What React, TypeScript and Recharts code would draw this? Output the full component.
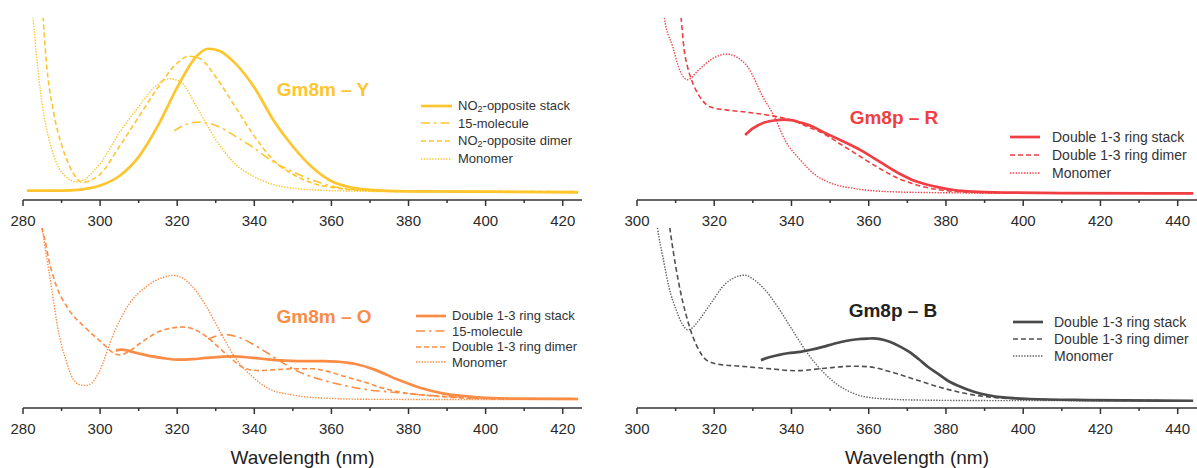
import React from 'react';
import { LineChart, Line, XAxis, YAxis } from 'recharts';

type Pt = [number, number];

const FONT = '"Liberation Sans", Arial, Helvetica, sans-serif';

// ---------- tick values ----------
const ticksLeft = [280, 290, 300, 310, 320, 330, 340, 350, 360, 370, 380, 390, 400, 410, 420];
const ticksRight = [300, 310, 320, 330, 340, 350, 360, 370, 380, 390, 400, 410, 420, 430, 440];

// ---------- Gm8m – Y ----------
const yStack: Pt[] = [[281, 0.006], [290, 0.006], [295, 0.012], [300, 0.035], [305, 0.09], [310, 0.2], [315, 0.38], [320, 0.6], [325, 0.78], [328, 0.823], [331, 0.81], [335, 0.74], [340, 0.6], [345, 0.41], [350, 0.26], [355, 0.14], [360, 0.06], [365, 0.025], [370, 0.01], [380, 0.002], [400, 0], [424, -0.004]];
const y15mol: Pt[] = [[319.2, 0.35], [322, 0.385], [325, 0.4], [328, 0.395], [331, 0.372], [335, 0.32], [340, 0.25], [345, 0.17], [350, 0.115], [355, 0.067], [360, 0.033], [365, 0.015], [370, 0.006], [380, 0.002], [400, 0], [424, 0]];
const yDimer: Pt[] = [[284.8, 1.1], [285.2, 1], [286, 0.76], [288, 0.45], [290, 0.27], [292, 0.15], [294, 0.075], [295.5, 0.052], [297, 0.06], [300, 0.1], [305, 0.26], [310, 0.43], [315, 0.6], [320, 0.74], [323, 0.78], [326, 0.765], [330, 0.66], [335, 0.49], [340, 0.32], [345, 0.18], [350, 0.1], [355, 0.05], [360, 0.025], [370, 0.006], [380, 0.001], [424, 0]];
const yMono: Pt[] = [[282.2, 1.1], [282.6, 1], [283.6, 0.76], [285, 0.5], [287, 0.28], [289, 0.15], [291, 0.09], [293.5, 0.058], [296, 0.07], [298, 0.11], [300, 0.16], [305, 0.34], [310, 0.49], [314, 0.6], [318, 0.65], [321, 0.63], [325, 0.49], [330, 0.3], [335, 0.16], [340, 0.085], [345, 0.04], [350, 0.02], [360, 0.006], [380, 0], [424, 0]];

// ---------- Gm8p – R ----------
const rStack: Pt[] = [[328, 0.333], [330, 0.37], [333, 0.404], [336, 0.417], [338, 0.42], [340, 0.418], [342.3, 0.404], [345, 0.385], [348, 0.352], [353, 0.3], [358, 0.245], [363, 0.178], [368, 0.112], [372.4, 0.067], [377.3, 0.038], [382, 0.019], [387, 0.01], [397, 0.004], [410, 0.001], [444, 0]];
const rDimer: Pt[] = [[311.1, 1.05], [311.4, 1], [312.2, 0.82], [313.1, 0.72], [314.1, 0.648], [316, 0.56], [318, 0.505], [320, 0.486], [323, 0.476], [329, 0.461], [335.5, 0.44], [340.3, 0.415], [344.2, 0.38], [348.1, 0.343], [353, 0.276], [357.8, 0.21], [362.7, 0.143], [367.6, 0.086], [372.4, 0.048], [377.3, 0.023], [382.1, 0.011], [387, 0.006], [397, 0.002], [444, 0]];
const rMono: Pt[] = [[306.8, 1.05], [307.1, 1], [309.2, 0.84], [311.2, 0.695], [313.1, 0.648], [316, 0.705], [319, 0.76], [323.1, 0.794], [326, 0.775], [328.7, 0.72], [332.6, 0.55], [335.5, 0.44], [338.4, 0.3], [342.3, 0.19], [346.2, 0.105], [350, 0.06], [355.9, 0.029], [363.7, 0.011], [377, 0.004], [400, 0.001], [444, 0]];

// ---------- Gm8m – O ----------
const oStack: Pt[] = [[304.1, 0.287], [305.6, 0.291], [309, 0.275], [313.5, 0.252], [317, 0.24], [320.5, 0.233], [324, 0.236], [327.5, 0.243], [334.4, 0.252], [339, 0.245], [343.4, 0.235], [348, 0.228], [353.3, 0.224], [358, 0.224], [361.3, 0.222], [364, 0.216], [366.3, 0.208], [371.2, 0.175], [377.2, 0.117], [383.2, 0.068], [389.2, 0.035], [398.1, 0.014], [408, 0.006], [424, 0.004]];
const o15mol: Pt[] = [[328, 0.353], [330, 0.37], [332.4, 0.379], [335, 0.37], [337.4, 0.35], [340, 0.318], [343.4, 0.272], [347.4, 0.214], [351.3, 0.165], [357.3, 0.117], [363.3, 0.083], [369.3, 0.058], [375.2, 0.045], [383.2, 0.029], [393.1, 0.014], [403.1, 0.006], [424, 0.003]];
const oDimer: Pt[] = [[284.6, 1.05], [284.9, 1], [285.7, 0.93], [286.7, 0.816], [288.7, 0.66], [291.6, 0.534], [296.6, 0.41], [300.6, 0.33], [303.6, 0.27], [305, 0.26], [306.6, 0.27], [310.5, 0.33], [315.5, 0.398], [321.5, 0.423], [325.5, 0.398], [327.5, 0.369], [330.5, 0.31], [333.4, 0.252], [337.4, 0.184], [341.4, 0.169], [345.4, 0.175], [351.3, 0.18], [355, 0.18], [359, 0.165], [363.3, 0.136], [369.3, 0.097], [373.2, 0.068], [379.2, 0.039], [388.2, 0.019], [398, 0.006], [424, 0.002]];
const oMono: Pt[] = [[284.7, 1.05], [285, 1], [286, 0.85], [287.5, 0.64], [289, 0.42], [291, 0.24], [293, 0.12], [295, 0.085], [296.4, 0.083], [298, 0.1], [299.6, 0.155], [303.6, 0.39], [307.6, 0.56], [311.5, 0.65], [315.5, 0.705], [319, 0.724], [322, 0.7], [325, 0.63], [327.5, 0.545], [331.4, 0.385], [335.4, 0.233], [339.4, 0.136], [343.4, 0.068], [349.4, 0.029], [357.3, 0.01], [370, 0.002], [424, 0]];

// ---------- Gm8p – B ----------
const bStack: Pt[] = [[332.1, 0.235], [334, 0.25], [336.5, 0.264], [339, 0.275], [342.3, 0.283], [345, 0.295], [348.1, 0.312], [351, 0.33], [354, 0.346], [357, 0.356], [359.8, 0.36], [361.2, 0.361], [363, 0.357], [365.6, 0.34], [368, 0.315], [370.5, 0.283], [373, 0.24], [375.3, 0.197], [378, 0.155], [380.2, 0.12], [383, 0.088], [387, 0.054], [391, 0.032], [394.8, 0.019], [401.6, 0.01], [416.2, 0.004], [444, 0]];
const bDimer: Pt[] = [[308.2, 1.05], [308.5, 1], [310.7, 0.694], [313.1, 0.465], [315.6, 0.312], [318, 0.235], [320.9, 0.212], [326.7, 0.2], [333.5, 0.187], [341.3, 0.174], [348.1, 0.187], [355.9, 0.2], [359.8, 0.197], [365.6, 0.168], [372.4, 0.12], [379.2, 0.073], [387, 0.034], [394.8, 0.015], [406.5, 0.006], [420, 0.002], [444, 0]];
const bMono: Pt[] = [[305, 1.05], [305.3, 1], [306.8, 0.82], [308.3, 0.656], [310.2, 0.522], [311.7, 0.445], [313.1, 0.411], [314.5, 0.425], [316, 0.465], [319, 0.56], [322.8, 0.675], [325.5, 0.715], [327.9, 0.727], [330, 0.705], [332.6, 0.656], [336.5, 0.541], [340.3, 0.407], [344.2, 0.273], [348.1, 0.168], [352, 0.092], [355.9, 0.044], [361.7, 0.015], [372.4, 0.004], [390, 0.001], [444, 0]];

// ---------- labels ----------
const titles = ['Gm8m \u2013 Y', 'Gm8p \u2013 R', 'Gm8m \u2013 O', 'Gm8p \u2013 B'];
const xAxisTitle = 'Wavelength (nm)';
const legendY = ['NO2-opposite stack', '15-molecule', 'NO2-opposite dimer', 'Monomer'];
const legendR = ['Double 1-3 ring stack', 'Double 1-3 ring dimer', 'Monomer'];
const legendO = ['Double 1-3 ring stack', '15-molecule', 'Double 1-3 ring dimer', 'Monomer'];
const legendB = ['Double 1-3 ring stack', 'Double 1-3 ring dimer', 'Monomer'];

const COLOR_Y = '#FFC52E';
const COLOR_R = '#F03E42';
const COLOR_O = '#FB8C45';
const COLOR_B = '#4A4A4A';

type Kind = 'solid' | 'dashdot' | 'dash' | 'dot';
const LINE_STYLE: Record<Kind, { width: number; dash?: string }> = {
  solid: { width: 2.7 },
  dashdot: { width: 1.6, dash: '9 4 2.5 4' },
  dash: { width: 1.6, dash: '5 3' },
  dot: { width: 1.4, dash: '1.4 1.4' },
};

type Series = { label: string; data: Pt[]; kind: Kind; color: string };

const seriesY: Series[] = [
  { label: legendY[0], data: yStack, kind: 'solid', color: COLOR_Y },
  { label: legendY[1], data: y15mol, kind: 'dashdot', color: COLOR_Y },
  { label: legendY[2], data: yDimer, kind: 'dash', color: COLOR_Y },
  { label: legendY[3], data: yMono, kind: 'dot', color: COLOR_Y },
];
const seriesR: Series[] = [
  { label: legendR[0], data: rStack, kind: 'solid', color: COLOR_R },
  { label: legendR[1], data: rDimer, kind: 'dash', color: COLOR_R },
  { label: legendR[2], data: rMono, kind: 'dot', color: COLOR_R },
];
const seriesO: Series[] = [
  { label: legendO[0], data: oStack, kind: 'solid', color: COLOR_O },
  { label: legendO[1], data: o15mol, kind: 'dashdot', color: COLOR_O },
  { label: legendO[2], data: oDimer, kind: 'dash', color: COLOR_O },
  { label: legendO[3], data: oMono, kind: 'dot', color: COLOR_O },
];
const seriesB: Series[] = [
  { label: legendB[0], data: bStack, kind: 'solid', color: COLOR_B },
  { label: legendB[1], data: bDimer, kind: 'dash', color: '#505050' },
  { label: legendB[2], data: bMono, kind: 'dot', color: '#606060' },
];

const toPts = (arr: Pt[]) => arr.map(([nm, v]) => ({ nm, v }));

const renderTick = (props: any) => {
  const { x, y, payload } = props;
  const v = payload.value as number;
  const major = v % 20 === 0;
  return (
    <g>
      <line x1={x} x2={x} y1={y} y2={y + (major ? 6 : 3)} stroke="#333" strokeWidth={1.5} />
      {major && (
        <text x={x} y={y + 26} textAnchor="middle" fontSize={15} fill="#2a2a2a" fontFamily={FONT}>
          {v}
        </text>
      )}
    </g>
  );
};

function renderLabel(text: string) {
  if (text.startsWith('NO2')) {
    return (
      <>
        NO<sub style={{ fontSize: '0.7em', lineHeight: 0, verticalAlign: '-0.25em' }}>2</sub>
        {text.slice(3)}
      </>
    );
  }
  return text;
}

type ChartProps = {
  left: number; top: number; width: number; height: number;
  margin: { top: number; right: number; bottom: number; left: number };
  axisHeight: number; xDomain: [number, number]; xTicks: number[];
  yDomain: [number, number]; series: Series[]; showXLabel?: boolean;
};

function Chart(p: ChartProps) {
  return (
    <div style={{ position: 'absolute', left: p.left, top: p.top }}>
      <LineChart width={p.width} height={p.height} margin={p.margin}>
        <XAxis
          type="number"
          dataKey="nm"
          domain={p.xDomain}
          ticks={p.xTicks}
          interval={0}
          allowDataOverflow
          tickLine={false}
          tickSize={0}
          tickMargin={0}
          axisLine={{ stroke: '#333', strokeWidth: 1.5 }}
          height={p.axisHeight}
          tick={renderTick}
          label={
            p.showXLabel
              ? { value: xAxisTitle, position: 'insideBottom', offset: 4, fontSize: 19, fill: '#222', fontFamily: FONT }
              : undefined
          }
        />
        <YAxis type="number" hide domain={p.yDomain} allowDataOverflow />
        {[...p.series].reverse().map((s) => (
          <Line
            key={s.label + s.kind}
            data={toPts(s.data)}
            dataKey="v"
            type="monotone"
            stroke={s.color}
            strokeWidth={LINE_STYLE[s.kind].width}
            strokeDasharray={LINE_STYLE[s.kind].dash}
            dot={false}
            activeDot={false}
            isAnimationActive={false}
          />
        ))}
      </LineChart>
    </div>
  );
}

type LegendProps = { left: number; top: number; rowH: number; fontSize: number; lineW: number; gap: number; series: Series[] };

function LegendBox(p: LegendProps) {
  return (
    <div style={{ position: 'absolute', left: p.left, top: p.top, fontFamily: FONT, fontSize: p.fontSize, color: '#333' }}>
      {p.series.map((s) => (
        <div key={s.label + s.kind} style={{ display: 'flex', alignItems: 'center', height: p.rowH, whiteSpace: 'nowrap' }}>
          <svg width={p.lineW} height={8} style={{ display: 'block' }}>
            <line
              x1={0}
              x2={p.lineW}
              y1={4}
              y2={4}
              stroke={s.color}
              strokeWidth={LINE_STYLE[s.kind].width}
              strokeDasharray={LINE_STYLE[s.kind].dash}
            />
          </svg>
          <span style={{ marginLeft: p.gap, lineHeight: 1 }}>{renderLabel(s.label)}</span>
        </div>
      ))}
    </div>
  );
}

function Title({ cx, cy, text, color }: { cx: number; cy: number; text: string; color: string }) {
  return (
    <div
      style={{
        position: 'absolute', left: cx - 80, top: cy - 11, width: 160, height: 22, lineHeight: '22px',
        textAlign: 'center', fontFamily: FONT, fontWeight: 700, fontSize: 19, color, whiteSpace: 'nowrap',
      }}
    >
      {text}
    </div>
  );
}

export default function App() {
  return (
    <div style={{ position: 'absolute', left: 0, top: 0, width: 1197, height: 468, background: '#fff', overflow: 'hidden' }}>
      <Chart left={0} top={0} width={600} height={240} margin={{ top: 18, right: 18, bottom: 0, left: 23 }} axisHeight={40}
        xDomain={[280, 425]} xTicks={ticksLeft} yDomain={[-0.048, 1]} series={seriesY} />
      <Chart left={600} top={0} width={597} height={240} margin={{ top: 18, right: 0, bottom: 0, left: 37 }} axisHeight={40}
        xDomain={[300, 445]} xTicks={ticksRight} yDomain={[-0.038, 1]} series={seriesR} />
      <Chart left={0} top={220} width={600} height={248} margin={{ top: 8, right: 18, bottom: 0, left: 23 }} axisHeight={60}
        xDomain={[280, 425]} xTicks={ticksLeft} yDomain={[-0.0485, 1]} series={seriesO} showXLabel />
      <Chart left={600} top={220} width={597} height={248} margin={{ top: 8, right: 0, bottom: 0, left: 37 }} axisHeight={60}
        xDomain={[300, 445]} xTicks={ticksRight} yDomain={[-0.042, 1]} series={seriesB} showXLabel />

      <Title cx={323} cy={90} text={titles[0]} color={COLOR_Y} />
      <Title cx={894} cy={118} text={titles[1]} color={COLOR_R} />
      <Title cx={324} cy={317} text={titles[2]} color={COLOR_O} />
      <Title cx={893} cy={311} text={titles[3]} color="#222" />

      <LegendBox left={421} top={97} rowH={17.6} fontSize={13} lineW={31} gap={6} series={seriesY} />
      <LegendBox left={1010} top={128} rowH={18} fontSize={14} lineW={30} gap={12} series={seriesR} />
      <LegendBox left={416} top={308} rowH={15.5} fontSize={13} lineW={30} gap={6} series={seriesO} />
      <LegendBox left={1013} top={313.5} rowH={17} fontSize={14} lineW={30} gap={11} series={seriesB} />
    </div>
  );
}
